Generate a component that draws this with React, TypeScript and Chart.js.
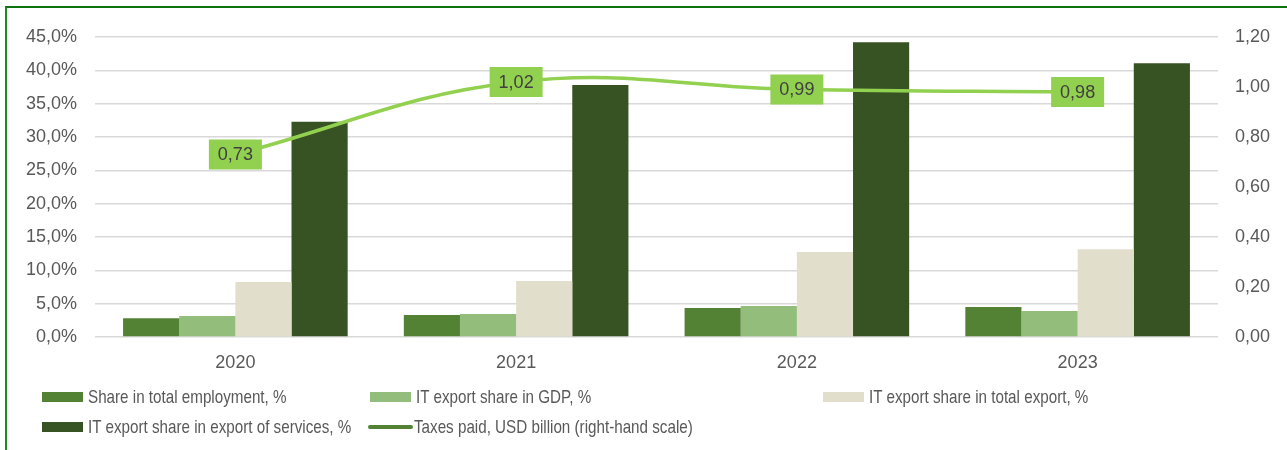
import React, { useEffect, useRef } from "react";
import { Chart, registerables } from "chart.js";

Chart.register(...registerables);

const categories = ["2020", "2021", "2022", "2023"];
const employmentShare = [2.8, 3.3, 4.35, 4.5];
const gdpShare = [3.15, 3.45, 4.65, 3.9];
const totalExportShare = [8.25, 8.4, 12.75, 13.15];
const servicesExportShare = [32.3, 37.8, 44.2, 41.05];
const taxesPaid = [0.73, 1.02, 0.99, 0.98];

const seriesNames = [
  "Share in total employment, %",
  "IT export share in GDP, %",
  "IT export share in total export, %",
  "IT export share in export of services, %",
  "Taxes paid, USD billion (right-hand scale)",
];

const leftMax = 45;
const leftStep = 5;
const rightMax = 1.2;
const rightStep = 0.2;

const COLORS = ["#548235", "#93BD7A", "#E1DFCC", "#375223"];
const LINE_COLOR = "#92D050";
const LEGEND_LINE_COLOR = "#548235";
const TEXT = "#595959";
const FONT = "'Liberation Sans', Arial, sans-serif";

const lineLabelPlugin = {
  id: "lineLabels",
  afterDatasetsDraw(chart: any) {
    const ctx = chart.ctx;
    chart.data.datasets.forEach((ds: any, i: number) => {
      if (ds.type !== "line") return;
      const meta = chart.getDatasetMeta(i);
      meta.data.forEach((pt: any, j: number) => {
        const text = Number(ds.data[j]).toFixed(2).replace(".", ",");
        ctx.save();
        ctx.font = `18px ${FONT}`;
        const w = 53;
        const h = 30;
        ctx.fillStyle = LINE_COLOR;
        ctx.fillRect(pt.x - w / 2, pt.y - h / 2, w, h);
        ctx.fillStyle = "#404040";
        ctx.textAlign = "center";
        ctx.textBaseline = "middle";
        ctx.fillText(text, pt.x, pt.y + 1);
        ctx.restore();
      });
    });
  },
};

export default function App() {
  const ref = useRef<HTMLCanvasElement>(null);

  useEffect(() => {
    if (!ref.current) return;
    const barSets = [employmentShare, gdpShare, totalExportShare, servicesExportShare].map(
      (d, i) => ({
        type: "bar" as const,
        label: seriesNames[i],
        data: d,
        backgroundColor: COLORS[i],
        yAxisID: "y",
        barPercentage: 1,
        categoryPercentage: 0.8,
        order: 1,
      })
    );
    const chart = new Chart(ref.current, {
      type: "bar",
      data: {
        labels: categories,
        datasets: [
          ...barSets,
          {
            type: "line" as const,
            label: seriesNames[4],
            data: taxesPaid,
            borderColor: LINE_COLOR,
            backgroundColor: LINE_COLOR,
            borderWidth: 3.5,
            pointRadius: 0,
            tension: 0.4,
            yAxisID: "y1",
            order: 0,
          } as any,
        ],
      },
      options: {
        responsive: false,
        animation: false,
        devicePixelRatio: 1,
        layout: { padding: { top: 37, left: 0, right: 0, bottom: 0 } },
        plugins: {
          legend: { display: false },
          tooltip: { enabled: false },
        },
        scales: {
          x: {
            grid: { display: false },
            border: { display: false },
            ticks: { color: TEXT, font: { family: FONT, size: 18 }, padding: 7 },
            afterFit(scale: any) {
              scale.height = 113;
            },
          },
          y: {
            position: "left",
            min: 0,
            max: leftMax,
            grid: { color: "#D9D9D9", lineWidth: 1.5, drawTicks: false },
            border: { display: false },
            ticks: {
              stepSize: leftStep,
              color: TEXT,
              font: { family: FONT, size: 18 },
              padding: 18,
              callback: (v: any) => Number(v).toFixed(1).replace(".", ",") + "%",
            },
            afterFit(scale: any) {
              scale.width = 95;
            },
          },
          y1: {
            position: "right",
            min: 0,
            max: rightMax,
            grid: { display: false, drawTicks: false },
            border: { display: false },
            ticks: {
              stepSize: rightStep,
              color: TEXT,
              font: { family: FONT, size: 18 },
              padding: 17,
              callback: (v: any) => Number(v).toFixed(2).replace(".", ","),
            },
            afterFit(scale: any) {
              scale.width = 69;
            },
          },
        },
      },
      plugins: [lineLabelPlugin],
    });
    return () => chart.destroy();
  }, []);

  const legendItems = [
    { x: 42, y: 397, kind: "box", color: COLORS[0], name: seriesNames[0] },
    { x: 370, y: 397, kind: "box", color: COLORS[1], name: seriesNames[1] },
    { x: 823, y: 397, kind: "box", color: COLORS[2], name: seriesNames[2] },
    { x: 42, y: 427, kind: "box", color: COLORS[3], name: seriesNames[3] },
    { x: 368, y: 427, kind: "line", color: LEGEND_LINE_COLOR, name: seriesNames[4] },
  ];

  return (
    <div
      style={{
        position: "fixed",
        left: 0,
        top: 0,
        width: 1287,
        height: 450,
        overflow: "hidden",
        background: "#fff",
      }}
    >
      <div
        style={{
          position: "absolute",
          left: 5,
          top: 6,
          width: 1400,
          height: 600,
          borderTop: "2px solid #0E730E",
          borderLeft: "2px solid #1F8A1F",
        }}
      />
      <canvas ref={ref} width={1287} height={450} style={{ position: "absolute", left: 0, top: 0 }} />
      {legendItems.map((it, i) => (
        <div key={i} style={{ position: "absolute", left: it.x, top: it.y - 12, height: 24 }}>
          {it.kind === "box" ? (
            <div
              style={{
                position: "absolute",
                left: 0,
                top: 7,
                width: 41,
                height: 10,
                background: it.color,
              }}
            />
          ) : (
            <div
              style={{
                position: "absolute",
                left: 0,
                top: 10,
                width: 45,
                height: 4,
                borderRadius: 2,
                background: it.color,
              }}
            />
          )}
          <span
            style={{
              position: "absolute",
              left: 46,
              top: 0,
              lineHeight: "24px",
              whiteSpace: "nowrap",
              fontFamily: FONT,
              fontSize: 19,
              color: TEXT,
              transform: "scaleX(0.8)",
              transformOrigin: "left center",
            }}
          >
            {it.name}
          </span>
        </div>
      ))}
    </div>
  );
}
